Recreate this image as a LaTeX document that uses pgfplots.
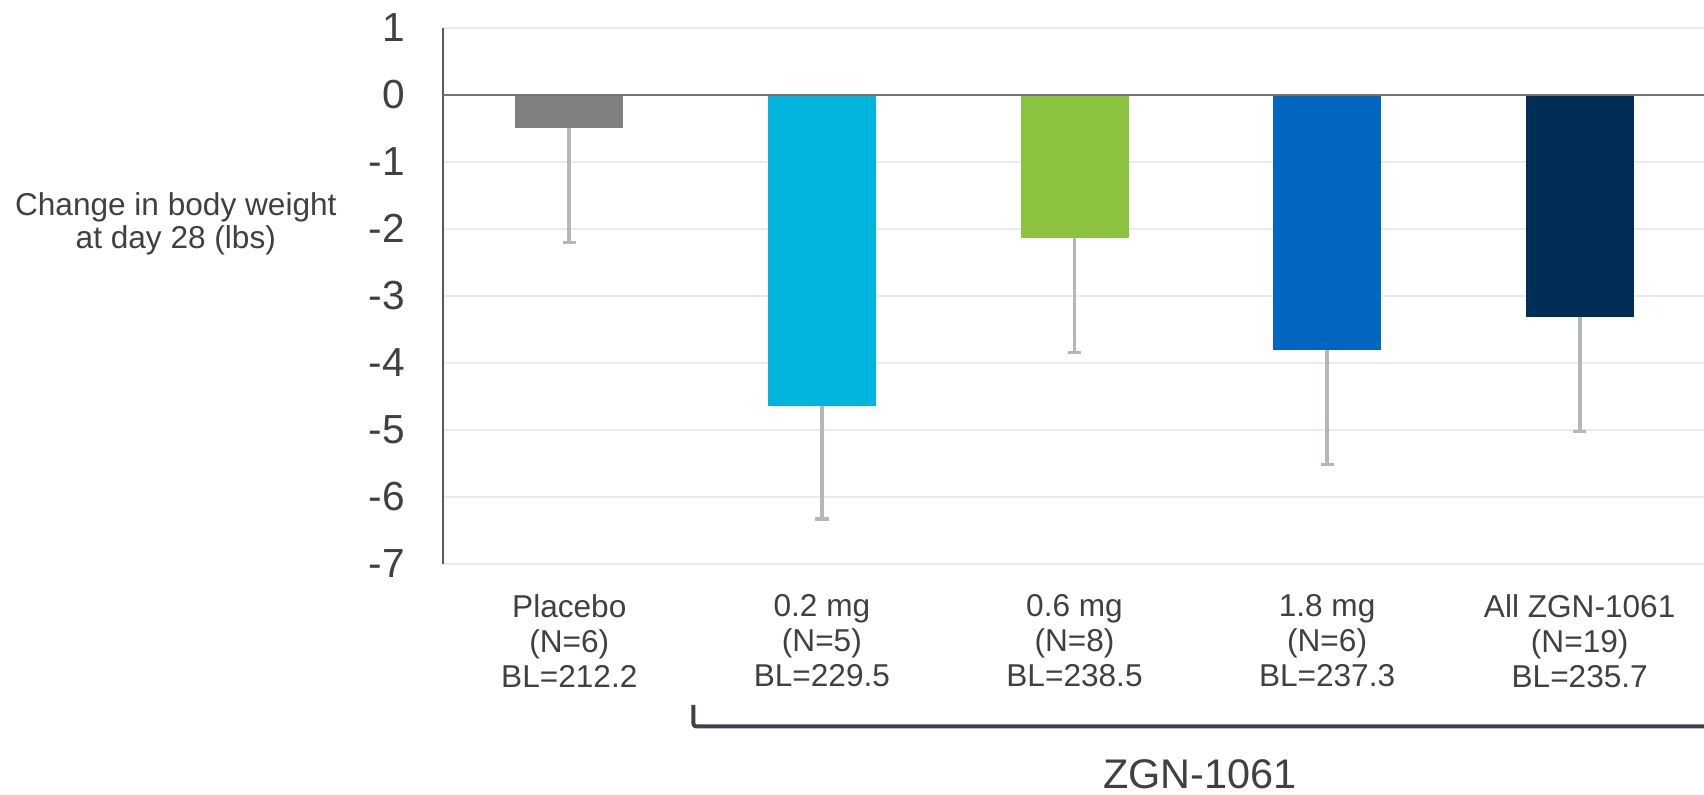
\documentclass[border=0pt]{standalone}
\usepackage{fontspec}
\setmainfont{Liberation Sans}
\usepackage{pgfplots}
\pgfplotsset{compat=1.18}
\definecolor{cPlacebo}{HTML}{808080}
\definecolor{cLow}{HTML}{00B4DD}
\definecolor{cMid}{HTML}{8CC43F}
\definecolor{cHigh}{HTML}{0066BF}
\definecolor{cAll}{HTML}{002D56}
\definecolor{errgray}{HTML}{B4B6BD}
\definecolor{txt}{HTML}{404040}
\definecolor{gridc}{HTML}{EBEBEB}
\definecolor{axisc}{HTML}{595959}
\definecolor{zeroc}{HTML}{737373}
\definecolor{brack}{HTML}{404048}
\pgfplotsset{
  myerr/.style={
    error bars/.cd,
      y dir=minus, y explicit,
      error bar style={draw=errgray, line width=1.9pt},
      error mark=|,
      error mark options={draw=errgray, line width=1.6pt, mark size=3.3pt},
  },
}
\begin{document}
\begin{tikzpicture}
\path[use as bounding box] (0,0) rectangle (852pt,397.5pt);
\begin{axis}[
  at={(221.5pt,115.5pt)}, anchor=south west,
  scale only axis, width=631.5pt, height=268.15pt,
  xmin=-0.5, xmax=4.5, ymin=-7, ymax=1,
  ybar, bar width=54pt, bar shift=0pt,
  xtick={0,1,2,3,4},
  xticklabels={{Placebo\\(N=6)\\BL=212.2},{0.2 mg\\(N=5)\\BL=229.5},{0.6 mg\\(N=8)\\BL=238.5},{1.8 mg\\(N=6)\\BL=237.3},{All ZGN-1061\\(N=19)\\BL=235.7}},
  ytick={-7,-6,-5,-4,-3,-2,-1,0,1},
  yticklabels={-7,-6,-5,-4,-3,-2,-1,0,1},
  major tick length=0pt,
  ymajorgrids, grid style={gridc, line width=1pt},
  axis lines=left, axis line style={-},
  x axis line style={draw=none},
  y axis line style={axisc, line width=1pt},
  xticklabel style={align=center, anchor=north, inner sep=0pt, yshift=-15pt, font=\fontsize{15.8}{17.5}\selectfont, text=txt},
  yticklabel style={anchor=east, inner sep=0pt, xshift=-19pt, font=\fontsize{20.3}{24}\selectfont, text=txt},
  clip=false,
]
\addplot[fill=cPlacebo, draw=none, bar shift=0pt, myerr] coordinates {(0,-0.50) -= (0,1.71)};
\addplot[fill=cLow, draw=none, bar shift=0pt, myerr] coordinates {(1,-4.64) -= (0,1.69)};
\addplot[fill=cMid, draw=none, bar shift=0pt, myerr] coordinates {(2,-2.13) -= (0,1.72)};
\addplot[fill=cHigh, draw=none, bar shift=0pt, myerr] coordinates {(3,-3.81) -= (0,1.70)};
\addplot[fill=cAll, draw=none, bar shift=0pt, myerr] coordinates {(4,-3.32) -= (0,1.70)};
\draw[zeroc, line width=1pt] (axis cs:-0.5,0) -- (axis cs:4.5,0);
\end{axis}
\node[anchor=base, inner sep=0pt, font=\fontsize{15.8}{17.5}\selectfont, text=txt] at (87.9pt,289.5pt) {Change in body weight};
\node[anchor=base, inner sep=0pt, font=\fontsize{15.8}{17.5}\selectfont, text=txt] at (87.9pt,273pt) {at day 28 (lbs)};
\draw[brack, line width=2pt, rounded corners=1.5pt] (346.7pt,45pt) -- (346.7pt,34.25pt) -- (870pt,34.25pt);
\node[anchor=base, inner sep=0pt, font=\fontsize{20.7}{24}\selectfont, text=txt] at (600pt,3pt) {ZGN-1061};
\end{tikzpicture}
\end{document}
